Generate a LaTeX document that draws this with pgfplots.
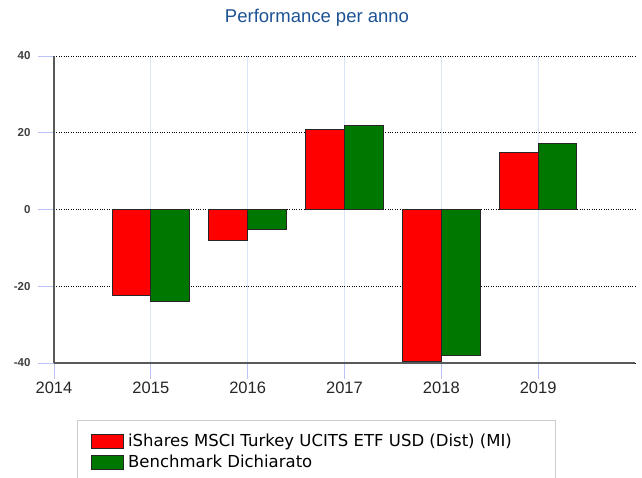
\documentclass[border=0pt]{standalone}
\usepackage{fontspec}
\setmainfont{Liberation Sans}
\newfontfamily\verdana{DejaVu Sans}
\usepackage{pgfplots}
\pgfplotsset{compat=1.18}
\definecolor{titleblue}{RGB}{29,82,148}
\definecolor{gridblue}{RGB}{218,230,246}
\definecolor{barred}{RGB}{255,0,0}
\definecolor{bargreen}{RGB}{0,120,0}
\newcommand{\lf}{\verdana\fontsize{16.5}{18}\selectfont}
\begin{document}
\begin{tikzpicture}
\path[use as bounding box] (0,0) rectangle (642pt,-477pt);
\node[font=\fontsize{18.5}{20}\selectfont, text=titleblue] at (317pt,-18pt) {Performance per anno};
\begin{axis}[
  at={(54pt,-363pt)}, anchor=south west,
  width=581pt, height=307pt, scale only axis,
  xmin=2014, xmax=2020, ymin=-40, ymax=40,
  xtick={2014,2015,2016,2017,2018,2019},
  ytick={-40,-20,0,20,40},
  axis lines*=left,
  axis line style={draw=black!65, line width=1.3pt},
  tick align=outside,
  major tick length=16pt,
  tick style={draw=gridblue!85!blue, line width=0.8pt},
  xmajorgrids, ymajorgrids,
  x grid style={draw=gridblue, line width=0.7pt},
  y grid style={draw=black, dotted, line width=0.8pt},
  /pgf/number format/assume math mode=true,
  /pgf/number format/1000 sep={},
  x tick label style={font=\fontsize{16.5}{18}\selectfont, text=black!85, yshift=1pt},
  y tick label style={font=\fontsize{11.5}{13}\selectfont\bfseries, text=black!75, xshift=-4pt},
  legend style={at={(axis description cs:0.0637,-0.225)}, anchor=north west, draw=none, fill=none, inner sep=0pt, row sep=3pt, legend cell align=left, nodes={inner xsep=4pt}},
  legend image code/.code={\draw[#1] (0pt,-7pt) rectangle (32pt,7pt);},
]
\addplot[ybar, bar width=0.4, bar shift=-0.2, fill=barred, draw=black!85, line width=0.9pt] coordinates {(2015,-22.3) (2016,-8.1) (2017,20.9) (2018,-39.6) (2019,14.8)};
\addlegendentry{\lf iShares MSCI Turkey UCITS ETF USD (Dist) (MI)}
\addplot[ybar, bar width=0.4, bar shift=0.2, fill=bargreen, draw=black!85, line width=0.9pt] coordinates {(2015,-24.0) (2016,-5.3) (2017,21.9) (2018,-38.1) (2019,17.1)};
\addlegendentry{\lf Benchmark Dichiarato}
\end{axis}
\draw[black!20, line width=1pt] (77pt,-520pt) -- (77pt,-420pt) -- (555pt,-420pt) -- (555pt,-520pt);
\end{tikzpicture}
\end{document}
